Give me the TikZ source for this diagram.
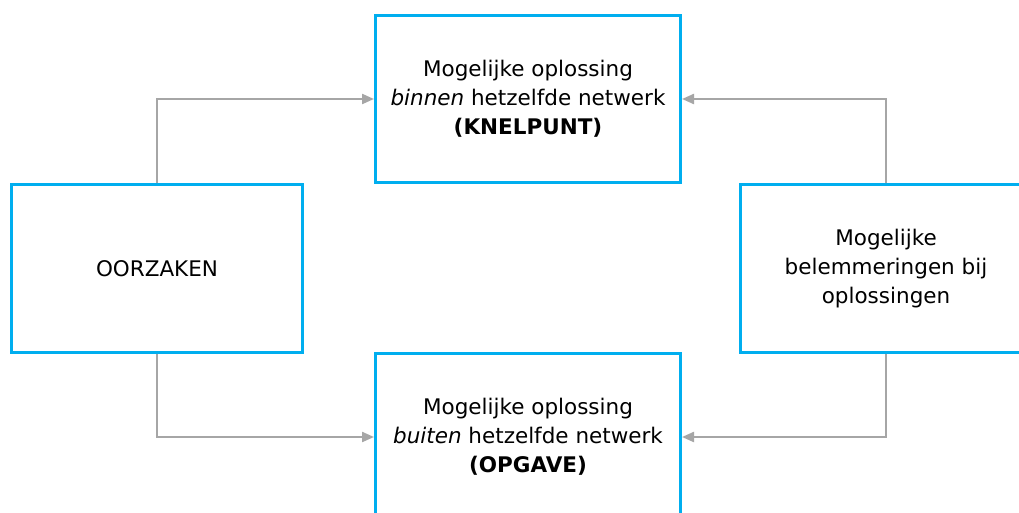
\documentclass[tikz,border=0pt]{standalone}
\usepackage{fontspec}
\setmainfont{DejaVu Sans}
\usetikzlibrary{arrows.meta}
\definecolor{boxblue}{HTML}{00AEEF}
\definecolor{linegray}{HTML}{A6A6A6}
\tikzset{
  box/.style={draw=boxblue, line width=3pt, fill=white, rectangle, align=center,
    font=\fontsize{21.5}{29}\selectfont, text=black, inner sep=0pt},
  wide/.style={box, minimum width=305pt, minimum height=167pt},
  side/.style={box, minimum width=291pt, minimum height=167pt},
  conn/.style={draw=linegray, line width=2.2pt, -{Triangle[length=12pt,width=10pt]}}
}
\begin{document}
\begin{tikzpicture}[x=1pt,y=-1pt]
\useasboundingbox (0,0) rectangle (1019,513);
\fill[white] (0,0) rectangle (1019,513);
\node[side] (oorz) at (157,268.5) {OORZAKEN};
\node[wide] (knel) at (528,99) {Mogelijke oplossing\\\textit{binnen} hetzelfde netwerk\\\textbf{(KNELPUNT)}};
\node[wide] (opg) at (528,437) {Mogelijke oplossing\\\textit{buiten} hetzelfde netwerk\\\textbf{(OPGAVE)}};
\node[side] (bel) at (886,268.5) {Mogelijke\\belemmeringen bij\\oplossingen};
\draw[conn] (oorz.north) |- (knel.west);
\draw[conn] (oorz.south) |- (opg.west);
\draw[conn] (bel.north) |- (knel.east);
\draw[conn] (bel.south) |- (opg.east);
\end{tikzpicture}
\end{document}
